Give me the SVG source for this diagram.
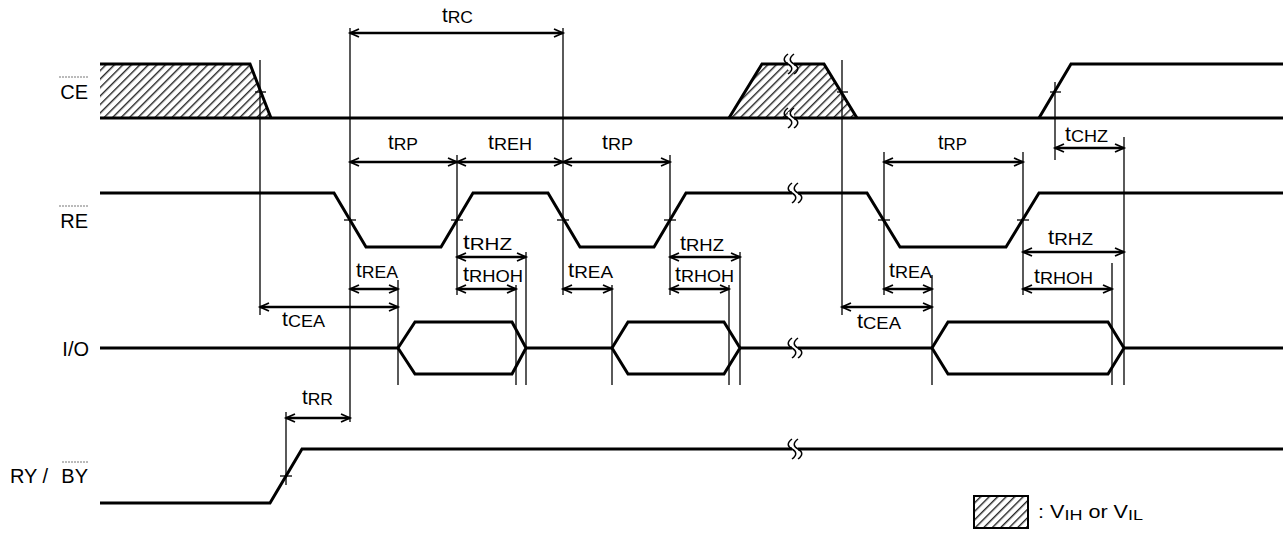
<svg xmlns="http://www.w3.org/2000/svg" width="1283" height="534" viewBox="0 0 1283 534">
<style>
.sig{fill:none;stroke:#000;stroke-width:3;stroke-linejoin:miter}
.g{stroke:#000;stroke-width:1.3;fill:none}
.tk{stroke:#000;stroke-width:1.3}
.ar{stroke:#000;stroke-width:2.5;fill:none;marker-start:url(#ah);marker-end:url(#ah)}
.lbl{font-family:"Liberation Sans",Arial,sans-serif;font-size:20px;fill:#000}
.lt{font-family:"Liberation Sans",Arial,sans-serif;font-size:20px;fill:#000}
.sb{font-size:17px}
.ov{stroke:#777;stroke-width:1;stroke-dasharray:2,1}
.brk{fill:none;stroke:#000;stroke-width:1.5}
</style>
<defs>
<pattern id="hatch" patternUnits="userSpaceOnUse" width="6" height="6" patternTransform="rotate(45)">
<rect width="6" height="6" fill="#fff"/>
<line x1="0" y1="0" x2="0" y2="6" stroke="#222" stroke-width="2.8"/>
</pattern>
<marker id="ah" markerWidth="14" markerHeight="14" refX="11" refY="7" orient="auto-start-reverse" markerUnits="userSpaceOnUse">
<path d="M2,3 L11,7 L2,11" fill="none" stroke="#000" stroke-width="1.8"/>
</marker>
<g id="sq"><path d="M0,-10 c-5,4 -5,7 0,10 c5,3 5,6 0,10" class="brk"/><path d="M6,-10 c-5,4 -5,7 0,10 c5,3 5,6 0,10" class="brk"/></g>
</defs>

<g id="labels">
<g id="lbl-ce"><line class="ov" x1="59" y1="77" x2="88" y2="77"/><text class="lbl" x="88" y="99" text-anchor="end">CE</text></g>
<g id="lbl-re"><line class="ov" x1="59" y1="206" x2="88" y2="206"/><text class="lbl" x="88" y="228" text-anchor="end">RE</text></g>
<g id="lbl-io"><text class="lbl" x="89" y="356" text-anchor="end">I/O</text></g>
<g id="lbl-ry"><text class="lbl" x="10" y="483">RY /</text><line class="ov" x1="62" y1="462" x2="88" y2="462"/><text class="lbl" x="88" y="483" text-anchor="end">BY</text></g>
</g>

<g id="signals">
<g id="ce">
<polygon points="100,64 250,64 271,118 100,118" fill="url(#hatch)"/>
<polyline class="sig" points="100,64 250,64 271,118"/>
<polygon points="729,118 762,64 824,64 857,118" fill="url(#hatch)"/>
<polyline class="sig" points="729,118 762,64 824,64 857,118"/>
<line class="sig" x1="100" y1="118" x2="1283" y2="118"/>
<polyline class="sig" points="1039,118 1071,64 1283,64"/>
<rect x="788" y="58" width="6" height="12" fill="#fff"/>
<rect x="788" y="112" width="6" height="12" fill="#fff"/>
<use href="#sq" x="788" y="64"/>
<use href="#sq" x="788" y="118"/>
<line class="tk" x1="255" y1="92" x2="266" y2="92"/>
<line class="tk" x1="837" y1="92" x2="848" y2="92"/>
<line class="tk" x1="1050" y1="92" x2="1061" y2="92"/>
</g>
<g id="re">
<polyline class="sig" points="100,193 334,193 366,247 441,247 473,193 548,193 580,247 654,247 686,193 867,193 900,247 1006,247 1039,193 1283,193"/>
<rect x="792" y="187" width="6" height="12" fill="#fff"/>
<use href="#sq" x="792" y="193"/>
<line class="tk" x1="344" y1="220" x2="356" y2="220"/>
<line class="tk" x1="451" y1="220" x2="463" y2="220"/>
<line class="tk" x1="557" y1="220" x2="569" y2="220"/>
<line class="tk" x1="664" y1="220" x2="676" y2="220"/>
<line class="tk" x1="878" y1="220" x2="890" y2="220"/>
<line class="tk" x1="1017" y1="220" x2="1029" y2="220"/>
</g>
<g id="io">
<line class="sig" x1="100" y1="348" x2="398" y2="348"/>
<polygon class="sig" points="398,348 415,322 512,322 526,348 512,374 415,374"/>
<line class="sig" x1="526" y1="348" x2="612" y2="348"/>
<polygon class="sig" points="612,348 628,322 724,322 740,348 724,374 628,374"/>
<line class="sig" x1="740" y1="348" x2="932" y2="348"/>
<polygon class="sig" points="932,348 948,322 1108,322 1124,348 1108,374 948,374"/>
<line class="sig" x1="1124" y1="348" x2="1283" y2="348"/>
<rect x="792" y="342" width="6" height="12" fill="#fff"/>
<use href="#sq" x="792" y="348"/>
</g>
<g id="ry">
<polyline class="sig" points="100,503 270,503 302,449 1283,449"/>
<rect x="792" y="443" width="6" height="12" fill="#fff"/>
<use href="#sq" x="792" y="449"/>
<line class="tk" x1="280" y1="476" x2="292" y2="476"/>
</g>
</g>

<g id="connectors">
<line class="g" x1="260" y1="60" x2="260" y2="315"/>
<line class="g" x1="350" y1="28" x2="350" y2="422"/>
<line class="g" x1="457" y1="155" x2="457" y2="295"/>
<line class="g" x1="563" y1="28" x2="563" y2="295"/>
<line class="g" x1="670" y1="155" x2="670" y2="295"/>
<line class="g" x1="398" y1="280" x2="398" y2="385"/>
<line class="g" x1="516" y1="285" x2="516" y2="385"/>
<line class="g" x1="526" y1="252" x2="526" y2="385"/>
<line class="g" x1="612" y1="285" x2="612" y2="385"/>
<line class="g" x1="729" y1="285" x2="729" y2="385"/>
<line class="g" x1="740" y1="252" x2="740" y2="385"/>
<line class="g" x1="842" y1="60" x2="842" y2="315"/>
<line class="g" x1="884" y1="152" x2="884" y2="295"/>
<line class="g" x1="1023" y1="152" x2="1023" y2="295"/>
<line class="g" x1="932" y1="275" x2="932" y2="385"/>
<line class="g" x1="1055" y1="82" x2="1055" y2="160"/>
<line class="g" x1="1124" y1="137" x2="1124" y2="385"/>
<line class="g" x1="1112" y1="263" x2="1112" y2="385"/>
<line class="g" x1="286" y1="412" x2="286" y2="485"/>

<line class="ar" x1="350" y1="33" x2="563" y2="33"/>
<line class="ar" x1="350" y1="162" x2="457" y2="162"/>
<line class="ar" x1="457" y1="162" x2="563" y2="162"/>
<line class="ar" x1="563" y1="162" x2="670" y2="162"/>
<line class="ar" x1="884" y1="162" x2="1023" y2="162"/>
<line class="ar" x1="1055" y1="148" x2="1124" y2="148"/>
<line class="ar" x1="457" y1="257" x2="526" y2="257"/>
<line class="ar" x1="670" y1="257" x2="740" y2="257"/>
<line class="ar" x1="1023" y1="252" x2="1124" y2="252"/>
<line class="ar" x1="457" y1="289" x2="516" y2="289"/>
<line class="ar" x1="670" y1="289" x2="729" y2="289"/>
<line class="ar" x1="1023" y1="289" x2="1112" y2="289"/>
<line class="ar" x1="350" y1="289" x2="398" y2="289"/>
<line class="ar" x1="563" y1="289" x2="612" y2="289"/>
<line class="ar" x1="884" y1="289" x2="932" y2="289"/>
<line class="ar" x1="260" y1="307" x2="398" y2="307"/>
<line class="ar" x1="842" y1="307" x2="932" y2="307"/>
<line class="ar" x1="286" y1="418" x2="350" y2="418"/>
</g>

<g id="timing-labels">
<text class="lt" x="442" y="22" textLength="31" lengthAdjust="spacingAndGlyphs">t<tspan class="sb" dy="1">RC</tspan></text>
<text class="lt" x="388" y="149" textLength="30" lengthAdjust="spacingAndGlyphs">t<tspan class="sb" dy="1">RP</tspan></text>
<text class="lt" x="488" y="149" textLength="44" lengthAdjust="spacingAndGlyphs">t<tspan class="sb" dy="1">REH</tspan></text>
<text class="lt" x="602" y="149" textLength="31" lengthAdjust="spacingAndGlyphs">t<tspan class="sb" dy="1">RP</tspan></text>
<text class="lt" x="938" y="149" textLength="29" lengthAdjust="spacingAndGlyphs">t<tspan class="sb" dy="1">RP</tspan></text>
<text class="lt" x="1065" y="141" textLength="43" lengthAdjust="spacingAndGlyphs">t<tspan class="sb" dy="1">CHZ</tspan></text>
<text class="lt" x="356" y="277" textLength="42" lengthAdjust="spacingAndGlyphs">t<tspan class="sb" dy="1">REA</tspan></text>
<text class="lt" x="282" y="326" textLength="43" lengthAdjust="spacingAndGlyphs">t<tspan class="sb" dy="1">CEA</tspan></text>
<text class="lt" x="463" y="249" textLength="49" lengthAdjust="spacingAndGlyphs">t<tspan class="sb" dy="1">RHZ</tspan></text>
<text class="lt" x="463" y="281" textLength="60" lengthAdjust="spacingAndGlyphs">t<tspan class="sb" dy="1">RHOH</tspan></text>
<text class="lt" x="568" y="277" textLength="45" lengthAdjust="spacingAndGlyphs">t<tspan class="sb" dy="1">REA</tspan></text>
<text class="lt" x="680" y="250" textLength="44" lengthAdjust="spacingAndGlyphs">t<tspan class="sb" dy="1">RHZ</tspan></text>
<text class="lt" x="675" y="281" textLength="59" lengthAdjust="spacingAndGlyphs">t<tspan class="sb" dy="1">RHOH</tspan></text>
<text class="lt" x="889" y="277" textLength="43" lengthAdjust="spacingAndGlyphs">t<tspan class="sb" dy="1">REA</tspan></text>
<text class="lt" x="857" y="328" textLength="44" lengthAdjust="spacingAndGlyphs">t<tspan class="sb" dy="1">CEA</tspan></text>
<text class="lt" x="1048" y="244" textLength="45" lengthAdjust="spacingAndGlyphs">t<tspan class="sb" dy="1">RHZ</tspan></text>
<text class="lt" x="1034" y="283" textLength="59" lengthAdjust="spacingAndGlyphs">t<tspan class="sb" dy="1">RHOH</tspan></text>
<text class="lt" x="302" y="404" textLength="31" lengthAdjust="spacingAndGlyphs">t<tspan class="sb" dy="1">RR</tspan></text>
</g>

<g id="legend">
<rect x="974" y="496" width="54" height="32" fill="url(#hatch)" stroke="#000" stroke-width="2"/>
<text class="lt" x="1038" y="518" style="font-size:18px" textLength="105" lengthAdjust="spacingAndGlyphs">: V<tspan style="font-size:15px" dy="2">IH</tspan><tspan dy="-2"> or V</tspan><tspan style="font-size:15px" dy="2">IL</tspan></text>
</g>
</svg>
